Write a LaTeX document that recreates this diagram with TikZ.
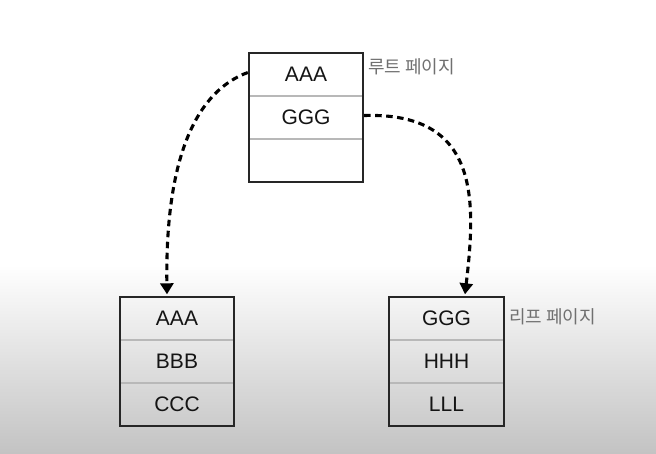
\documentclass[tikz,border=0pt]{standalone}
\usepackage{fontspec}
\setmainfont{Liberation Sans}
\newfontfamily\krfont{Noto Sans CJK KR}
\usetikzlibrary{arrows.meta}
\definecolor{framec}{HTML}{262626}
\definecolor{divc}{HTML}{B8B8B8}
\definecolor{labc}{HTML}{707070}
\definecolor{bgbot}{HTML}{C3C3C3}
\tikzset{
  cell/.style={minimum width=114pt, minimum height=43pt, inner sep=0pt, text=black!92, font=\fontsize{21}{23}\selectfont},
  frame/.style={draw=framec, line width=2pt},
  divider/.style={draw=divc, line width=1.5pt},
  pagelabel/.style={anchor=west, inner sep=0pt, text=labc, font=\krfont\fontsize{18}{20}\selectfont},
  link/.style={line width=3.1pt, dash pattern=on 6.5pt off 4.5pt, -{Triangle[width=13pt,length=11pt]}}
}
\begin{document}
\begin{tikzpicture}[x=1pt,y=-1pt]
\useasboundingbox (0,0) rectangle (656,453);
\fill[white] (0,0) rectangle (656,265);
\shade[top color=white, bottom color=bgbot] (0,265) rectangle (656,453);
% root page
\node[cell] (a1) at (306,74.5) {AAA};
\node[cell] (a2) at (306,117.5) {GGG};
\node[cell] (a3) at (306,160.5) {};
% left leaf
\node[cell] (b1) at (177,318.5) {AAA};
\node[cell] (b2) at (177,361.5) {BBB};
\node[cell] (b3) at (177,404.5) {CCC};
% right leaf
\node[cell] (c1) at (446.5,318.5) {GGG};
\node[cell] (c2) at (446.5,361.5) {HHH};
\node[cell] (c3) at (446.5,404.5) {LLL};
% dividers and frames
\foreach \p in {a,b,c}{
  \draw[divider] (\p1.south west) -- (\p1.south east);
  \draw[divider] (\p2.south west) -- (\p2.south east);
  \draw[frame] (\p1.north west) rectangle (\p3.south east);
}
% labels
\node[pagelabel] (rootlab) at (368,67) {루트 페이지};
\node[pagelabel] (leaflab) at (509,317) {리프 페이지};
% connectors
\coordinate (lend) at ([xshift=-10pt,yshift=2.5pt]b1.north);
\coordinate (rend) at ([xshift=18.5pt,yshift=2.5pt]c1.north);
\draw[link] ([xshift=-1pt,yshift=2pt]a1.west) .. controls (200,90) and (165,150) .. (lend);
\draw[link] ([xshift=1pt,yshift=2pt]a2.east) .. controls (480,112) and (476,200) .. (rend);
\end{tikzpicture}
\end{document}
